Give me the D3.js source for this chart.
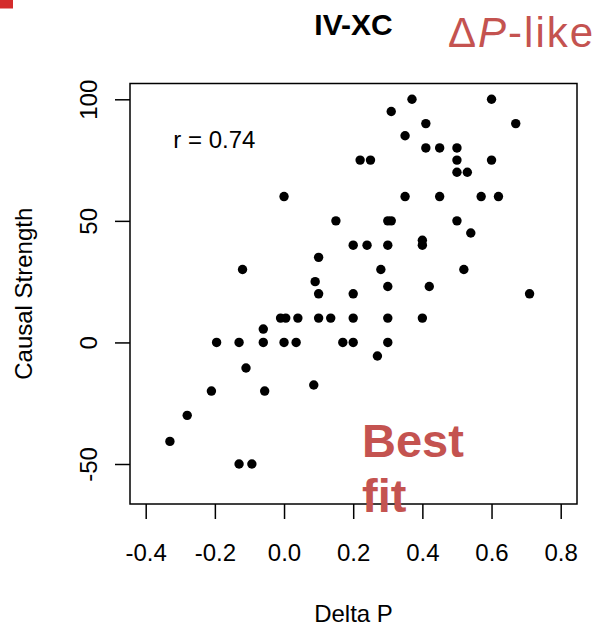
<!DOCTYPE html>
<html>
<head>
<meta charset="utf-8">
<script src="https://cdn.jsdelivr.net/npm/d3@7"></script>
<style>
    body { margin: 0; background: #fff; }
    text { font-family: "Liberation Sans", Arial, sans-serif; }
</style>
</head>
<body>
<svg id="canvas" width="601" height="629"></svg>
<script>
// delta P vs causal strength ratings
const DELTA_P = [
    0.37, 0.60, 0.31, 0.41, 0.67, 0.35, 0.41, 0.45, 0.50, 0.22,
    0.25, 0.50, 0.60, 0.50, 0.53, 0.35, 0.45, 0.57, 0.62, 0.00,
    0.15, 0.30, 0.31, 0.50, 0.54, 0.20, 0.24, 0.30, 0.40, 0.40,
    0.10, -0.12, 0.28, 0.52, 0.09, 0.30, 0.42, 0.10, 0.20, 0.71,
    -0.01, 0.005, 0.04, 0.10, 0.135, 0.20, 0.30, 0.40, -0.06, -0.195,
    -0.13, -0.06, 0.00, 0.035, 0.17, 0.20, 0.30, -0.11, 0.27, -0.21,
    -0.056, 0.086, -0.28, -0.33, -0.13, -0.093
];
const CAUSAL = [
    100, 100, 95, 90, 90, 85, 80, 80, 80, 75,
    75, 75, 75, 70, 70, 60, 60, 60, 60, 60,
    50, 50, 50, 50, 45, 40, 40, 40, 42, 40,
    35, 30, 30, 30, 25, 23, 23, 20, 20, 20,
    10, 10, 10, 10, 10, 10, 10, 10, 5.5, 0,
    0, 0, 0, 0, 0, 0, 0, -10.5, -5.6, -20,
    -20, -17.5, -30, -40.7, -50, -50
];
const X_TICKS = [-0.4, -0.2, 0.0, 0.2, 0.4, 0.6, 0.8];
const Y_TICKS = [-50, 0, 50, 100];

const LEFT = 130, RIGHT = 577, TOP = 83.5, BOTTOM = 504;
const RED = "#c45350";

const svg = d3.select("#canvas");

const scaleX = d3.scaleLinear()
    .domain([-0.4, 0.8])
    .range([145.7, 560.7]);

const scaleY = d3.scaleLinear()
    .domain([-50, 100])
    .range([464, 99.3]);

// little red mark in the corner
svg.append("rect")
    .attr("x", 0).attr("y", 0)
    .attr("width", 13).attr("height", 8.5)
    .attr("fill", "#d42b2b");

// axes, R style
const xAxis = svg.append("g")
    .attr("transform", `translate(0,${BOTTOM})`)
    .call(d3.axisBottom(scaleX).tickValues(X_TICKS).tickSize(15)
        .tickFormat(d3.format(".1f")));
xAxis.select(".domain").remove();
xAxis.selectAll("line").attr("stroke", "#000").attr("stroke-width", 1.5);
xAxis.selectAll("text")
    .attr("y", 57).attr("dy", 0)
    .attr("font-size", 24).attr("fill", "#000")
    .style("font-family", "'Liberation Sans', Arial, sans-serif")
    .text(d => d3.format(".1f")(d).replace("−", "-"));

const yAxis = svg.append("g")
    .attr("transform", `translate(${LEFT},0)`)
    .call(d3.axisLeft(scaleY).tickValues(Y_TICKS).tickSize(15));
yAxis.select(".domain").remove();
yAxis.selectAll("line").attr("stroke", "#000").attr("stroke-width", 1.5);
yAxis.selectAll("text")
    .attr("x", 0).attr("y", 0).attr("dy", 0)
    .attr("text-anchor", "middle")
    .attr("transform", "translate(-33,0) rotate(-90)")
    .attr("font-size", 24).attr("fill", "#000")
    .style("font-family", "'Liberation Sans', Arial, sans-serif")
    .text(d => String(d).replace("−", "-"));

// plot box
svg.append("rect")
    .attr("x", LEFT).attr("y", TOP)
    .attr("width", RIGHT - LEFT).attr("height", BOTTOM - TOP)
    .attr("fill", "none")
    .attr("stroke", "#000")
    .attr("stroke-width", 1.5);

svg.selectAll(".dot")
    .data(DELTA_P.map((d, i) => [d, CAUSAL[i]]))
    .enter()
    .append("circle")
    .attr("class", "dot")
    .attr("cx", d => scaleX(d[0]))
    .attr("cy", d => scaleY(d[1]))
    .attr("r", 4.7)
    .attr("fill", "#000");

svg.append("text")
    .attr("x", scaleX(-0.32))
    .attr("y", scaleY(80))
    .attr("font-size", 24)
    .text("r = 0.74");

// labels
svg.append("text")
    .attr("x", (LEFT + RIGHT) / 2).attr("y", 622)
    .attr("text-anchor", "middle")
    .attr("font-size", 24)
    .text("Delta P");

svg.append("text")
    .attr("transform", `translate(32,${(TOP + BOTTOM) / 2}) rotate(-90)`)
    .attr("text-anchor", "middle")
    .attr("font-size", 24)
    .text("Causal Strength");

svg.append("text")
    .attr("x", (LEFT + RIGHT) / 2).attr("y", 35)
    .attr("text-anchor", "middle")
    .attr("font-size", 30)
    .attr("font-weight", "bold")
    .text("IV-XC");

const model = svg.append("text")
    .attr("x", 448).attr("y", 47)
    .attr("font-size", 42)
    .attr("letter-spacing", 2)
    .attr("fill", RED);
model.append("tspan").text("Δ");
model.append("tspan").attr("font-style", "italic").text("P");
model.append("tspan").text("-like");

const best = svg.append("text")
    .attr("font-size", 47)
    .attr("font-weight", "bold")
    .attr("fill", RED);
best.append("tspan").attr("x", 362).attr("y", 457).text("Best");
best.append("tspan").attr("x", 362).attr("y", 512).text("fit");
</script>
</body>
</html>
